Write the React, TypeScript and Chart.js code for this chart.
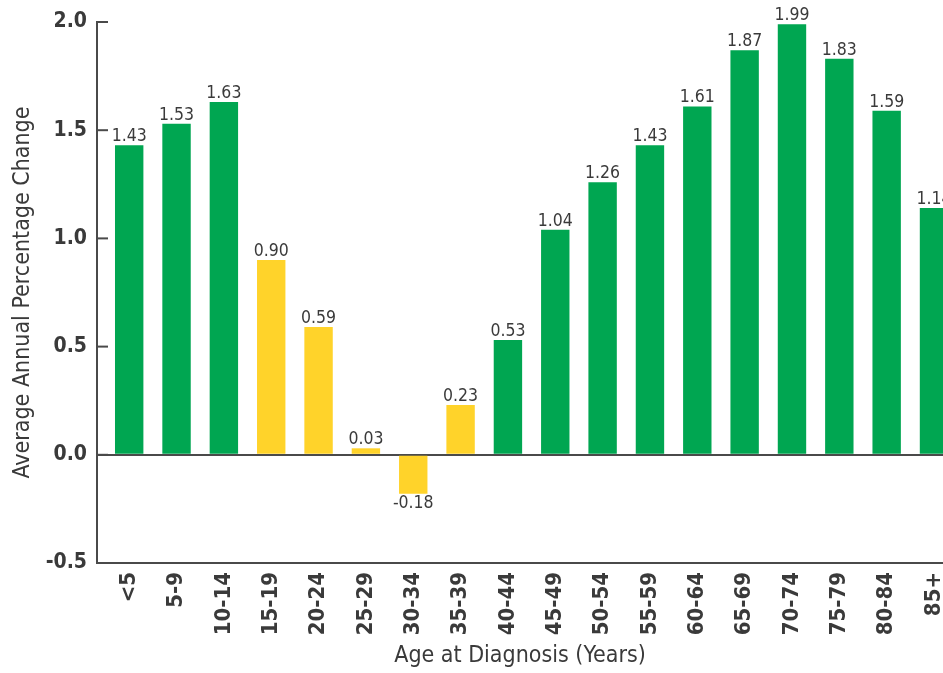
import React, { useEffect, useRef } from 'react';
import { Chart, registerables } from 'chart.js';

Chart.register(...registerables);

const ageGroups = ['<5', '5-9', '10-14', '15-19', '20-24', '25-29', '30-34', '35-39', '40-44',
  '45-49', '50-54', '55-59', '60-64', '65-69', '70-74', '75-79', '80-84', '85+'];
const changeValues = [1.43, 1.53, 1.63, 0.90, 0.59, 0.03, -0.18, 0.23, 0.53,
  1.04, 1.26, 1.43, 1.61, 1.87, 1.99, 1.83, 1.59, 1.14];
// age groups shown in yellow
const yellowGroups = ['15-19', '20-24', '25-29', '30-34', '35-39'];
const yTicks = [-0.5, 0, 0.5, 1.0, 1.5, 2.0];

const GREEN = '#00A651';
const YELLOW = '#FFD32A';
const AXIS = '#4a4a4a';
const TEXT = '#3a3a3a';
const FONT = "'Liberation Sans Narrow', 'DejaVu Sans Condensed', 'Liberation Sans', sans-serif";

const valueLabels = {
  id: 'valueLabels',
  afterDatasetsDraw(chart: Chart) {
    const ctx = chart.ctx;
    const meta = chart.getDatasetMeta(0);
    ctx.save();
    ctx.fillStyle = TEXT;
    ctx.font = `17.5px ${FONT}`;
    ctx.textAlign = 'center';
    meta.data.forEach((bar: any, i: number) => {
      const v = changeValues[i];
      if (v >= 0) {
        ctx.textBaseline = 'bottom';
        ctx.fillText(v.toFixed(2), bar.x, bar.y);
      } else {
        ctx.textBaseline = 'top';
        ctx.fillText(v.toFixed(2), bar.x, bar.y + 1);
      }
    });
    ctx.restore();
  },
};

// short tick marks pointing into the plot
const innerTicks = {
  id: 'innerTicks',
  afterDraw(chart: Chart) {
    const ctx = chart.ctx;
    const y = chart.scales.y;
    ctx.save();
    ctx.strokeStyle = AXIS;
    ctx.lineWidth = 2;
    y.ticks.forEach((t) => {
      const py = y.getPixelForValue(t.value);
      ctx.beginPath();
      ctx.moveTo(chart.chartArea.left, py);
      ctx.lineTo(chart.chartArea.left + 11, py);
      ctx.stroke();
    });
    ctx.restore();
  },
};

const App: React.FC = () => {
  const chartRef = useRef<HTMLCanvasElement>(null);
  const chartInstance = useRef<Chart | null>(null);

  useEffect(() => {
    if (!chartRef.current) return;
    const ctx = chartRef.current.getContext('2d');
    if (!ctx) return;
    if (chartInstance.current) chartInstance.current.destroy();

    chartInstance.current = new Chart(ctx, {
      type: 'bar',
      data: {
        datasets: [{
          data: changeValues.map((v, i) => ({ x: i, y: v })),
          backgroundColor: ageGroups.map((g) => (yellowGroups.includes(g) ? YELLOW : GREEN)),
          borderWidth: 0,
          categoryPercentage: 1,
          barPercentage: 0.6,
        }],
      },
      options: {
        animation: false,
        responsive: true,
        maintainAspectRatio: false,
        layout: { padding: { top: 22, left: 0, right: 0, bottom: 0 } },
        plugins: {
          legend: { display: false },
          tooltip: { enabled: false },
        },
        scales: {
          x: {
            type: 'linear',
            bounds: 'data',
            offset: false,
            min: -0.68,
            max: 17.19,
            afterBuildTicks: (scale: any) => {
              scale.ticks = ageGroups.map((_, i) => ({ value: i }));
            },
            afterFit: (scale: any) => {
              scale.height = 110;
              scale.paddingLeft = 0;
              scale.paddingRight = 0;
            },
            grid: { display: false, drawTicks: false, offset: false },
            border: { display: true, color: AXIS, width: 2 },
            ticks: {
              autoSkip: false,
              minRotation: 90,
              maxRotation: 90,
              padding: 9,
              color: TEXT,
              font: { family: FONT, size: 22, weight: 'bold' },
              callback: (value: any) => ageGroups[value as number],
            },
            title: {
              display: true,
              text: 'Age at Diagnosis (Years)',
              color: TEXT,
              font: { family: FONT, size: 23 },
              padding: { top: 0, bottom: 3 },
            },
          },
          y: {
            min: -0.5,
            max: 2.0,
            afterBuildTicks: (scale: any) => {
              scale.ticks = yTicks.map((v) => ({ value: v }));
            },
            afterFit: (scale: any) => {
              scale.width = 97;
              scale.paddingTop = 0;
              scale.paddingBottom = 0;
            },
            grid: {
              drawTicks: false,
              color: (c: any) => (c.tick && c.tick.value === 0 ? AXIS : 'rgba(0,0,0,0)'),
              lineWidth: 2,
            },
            border: { display: true, color: AXIS, width: 2 },
            ticks: {
              padding: 10,
              color: TEXT,
              font: { family: FONT, size: 21, weight: 'bold' },
              callback: (value: any) => Number(value).toFixed(1),
            },
            title: {
              display: true,
              text: 'Average Annual Percentage Change',
              color: TEXT,
              font: { family: FONT, size: 23 },
              padding: { top: 9, bottom: 0 },
            },
          },
        },
      },
      plugins: [valueLabels, innerTicks],
    });

    return () => {
      if (chartInstance.current) {
        chartInstance.current.destroy();
        chartInstance.current = null;
      }
    };
  }, []);

  return (
    <div style={{ position: 'fixed', left: 0, top: 0, width: 943, height: 673, background: '#fff' }}>
      <canvas ref={chartRef}></canvas>
    </div>
  );
};

export default App;
